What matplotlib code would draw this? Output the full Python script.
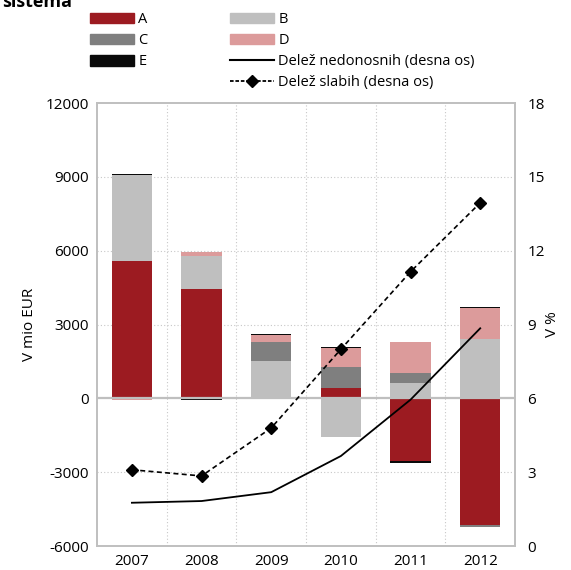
import numpy as np
import matplotlib.pyplot as plt
from matplotlib.patches import Patch
from matplotlib.lines import Line2D

# podatki
years = ["2007", "2008", "2009", "2010", "2011", "2012"]
A = [5600, 4450, 60, 430, -2560, -5150]
B = [3480, 1330, 1475, -1560, 620, 2410]
C = [0, 0, 775, 860, 420, -60]
D = [-50, 190, 270, 750, 1240, 1250]
E = [50, -80, 50, 50, -60, 70]
nedonosni = [1.76, 1.83, 2.19, 3.66, 5.95, 8.85]
slabi = [3.1, 2.85, 4.8, 8.0, 11.15, 13.95]

series = [("A", A, "#9c1b21"), ("B", B, "#bfbfbf"), ("C", C, "#7f7f7f"),
          ("D", D, "#dc9b9b"), ("E", E, "#0a0a0a")]

plt.rcParams["font.family"] = ["Open Sans", "DejaVu Sans"]
plt.rcParams["font.size"] = 10.5
plt.rcParams["axes.unicode_minus"] = False

fig = plt.figure(figsize=(5.71, 5.70), dpi=100)
ax = fig.add_axes([0.170, 0.042, 0.732, 0.777])
ax2 = ax.twinx()

x = np.arange(len(years))
pos_bottom = np.zeros(len(years))
neg_bottom = np.zeros(len(years))
for name, vals, col in series:
    v = np.array(vals, dtype=float)
    bottom = np.where(v >= 0, pos_bottom, neg_bottom)
    ax.bar(x, v, 0.58, bottom=bottom, color=col, zorder=2)
    pos_bottom += np.where(v >= 0, v, 0)
    neg_bottom += np.where(v < 0, v, 0)

grid_col = "#c8c8c8"
ax.axhline(0, color="#bfbfbf", lw=1.6, zorder=3)
ax.set_ylim(-6000, 12000)
ax.set_yticks(range(-6000, 12001, 3000))
ax.set_xlim(-0.5, 5.5)
ax.set_xticks(x)
ax.set_xticklabels(years)
for yv in [-3000, 3000, 6000, 9000]:
    ax.axhline(yv, color=grid_col, lw=0.8, ls=(0, (1, 2)), zorder=1)
for xv in np.arange(0.5, 5.5, 1):
    ax.axvline(xv, color=grid_col, lw=0.8, ls=(0, (1, 2)), zorder=1)
ax.tick_params(length=0, pad=6, labelsize=11)
ax.set_ylabel("V mio EUR", fontsize=11, labelpad=6)

ax2.plot(x, nedonosni, color="black", lw=1.3, zorder=4)
ax2.plot(x, slabi, color="black", lw=1.2, ls=(0, (3, 2)), marker="D",
         markersize=6, zorder=4)
ax2.set_ylim(0, 18)
ax2.set_yticks(range(0, 19, 3))
ax2.tick_params(length=0, pad=9, labelsize=11)
ax2.set_ylabel("V %", fontsize=11, labelpad=0)

for a in (ax, ax2):
    for s in a.spines.values():
        s.set_color("#bfbfbf")
        s.set_linewidth(1.2)

# legenda
h1 = [Patch(color=series[0][2], label="A"),
      Patch(color=series[2][2], label="C"),
      Patch(color=series[4][2], label="E")]
h2 = [Patch(color=series[1][2], label="B"),
      Patch(color=series[3][2], label="D"),
      Line2D([], [], color="black", lw=1.5, label="Delež nedonosnih (desna os)"),
      Line2D([], [], color="black", lw=1.3, ls=(0, (2, 1)), marker="D",
             markersize=6, label="Delež slabih (desna os)")]
common = dict(frameon=False, borderpad=0, handlelength=3.0, handleheight=0.75,
              labelspacing=0.42, handletextpad=0.3, fontsize=10.5,
              loc="upper left", borderaxespad=0)
fig.legend(handles=h1, bbox_to_anchor=(90 / 571, 1 - 12 / 570), **common)
fig.legend(handles=h2, bbox_to_anchor=(230 / 571, 1 - 12 / 570), **common)

fig.text(0.003, 1 - 7 / 570, "sistema", fontsize=13, fontweight="bold",
         va="baseline", ha="left")

plt.savefig("out.png", dpi=100)
